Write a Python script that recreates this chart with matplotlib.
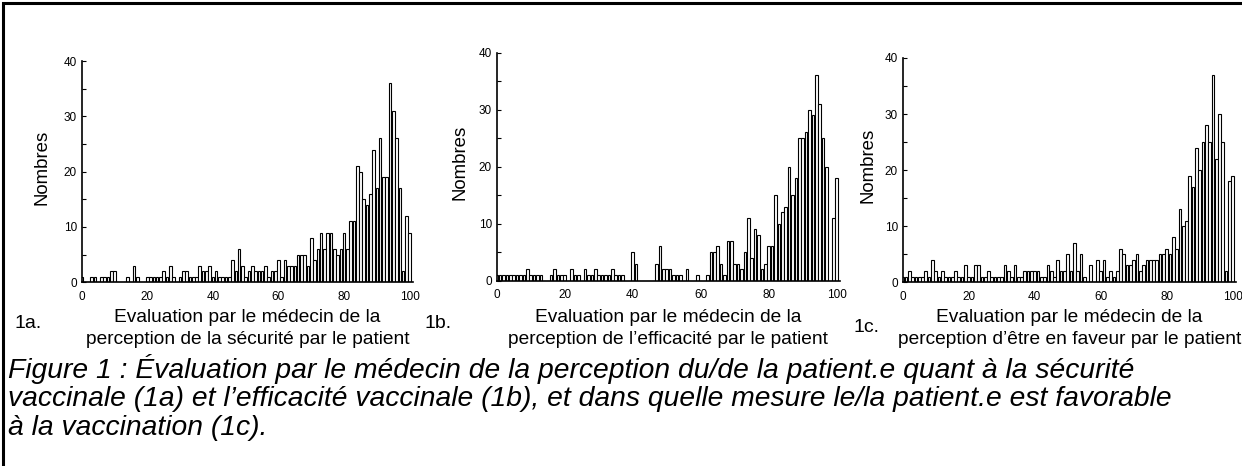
import matplotlib
matplotlib.use("Agg")
from matplotlib import pyplot as plt
from matplotlib.patches import Rectangle

plt.rcParams['font.family'] = ['Liberation Sans', 'DejaVu Sans']

scores = list(range(101))

# 1a : sécurité
counts_a = [1, 0, 0, 1, 1, 0, 1, 1, 1, 2,
            2, 0, 0, 0, 1, 0, 3, 1, 0, 0,
            1, 1, 1, 1, 1, 2, 1, 3, 1, 0,
            1, 2, 2, 1, 1, 1, 3, 2, 2, 3,
            1, 2, 1, 1, 1, 1, 4, 2, 6, 3,
            1, 2, 3, 2, 2, 2, 3, 1, 2, 2,
            4, 1, 4, 3, 3, 3, 5, 5, 5, 3,
            8, 4, 6, 9, 6, 9, 9, 6, 5, 6,
            9, 6, 11, 11, 21, 20, 15, 14, 16, 24,
            17, 26, 19, 19, 36, 31, 26, 17, 2, 12,
            9]

# 1b : efficacité
counts_b = [1, 1, 1, 1, 1, 1, 1, 1, 1, 2,
            1, 1, 1, 1, 0, 0, 1, 2, 1, 1,
            1, 0, 2, 1, 1, 0, 2, 1, 1, 2,
            1, 1, 1, 1, 2, 1, 1, 1, 0, 0,
            5, 3, 0, 0, 0, 0, 0, 3, 6, 2,
            2, 2, 1, 1, 1, 0, 2, 0, 0, 1,
            0, 0, 1, 5, 5, 6, 3, 1, 7, 7,
            3, 3, 2, 5, 11, 4, 9, 8, 2, 3,
            6, 6, 15, 10, 12, 13, 20, 15, 18, 25,
            25, 26, 30, 29, 36, 31, 25, 20, 0, 11,
            18]

# 1c : en faveur
counts_c = [1, 1, 2, 1, 1, 1, 1, 2, 1, 4,
            2, 1, 2, 1, 1, 1, 2, 1, 1, 3,
            1, 1, 3, 3, 1, 1, 2, 1, 1, 1,
            1, 3, 2, 1, 3, 1, 1, 2, 2, 2,
            2, 2, 1, 1, 3, 2, 1, 4, 2, 2,
            5, 2, 7, 2, 5, 1, 0, 3, 0, 4,
            2, 4, 1, 2, 1, 2, 6, 5, 3, 3,
            4, 5, 2, 3, 4, 4, 4, 4, 5, 5,
            6, 5, 8, 6, 13, 10, 11, 19, 17, 24,
            20, 25, 28, 25, 37, 22, 30, 25, 2, 18,
            19]

xlabels = [("Evaluation par le médecin de la", "perception de la sécurité par le patient"),
           ("Evaluation par le médecin de la", "perception de l\u2019efficacité par le patient"),
           ("Evaluation par le médecin de la", "perception d\u2019être en faveur par le patient")]
panel_tags = ["1a.", "1b.", "1c."]
caption_lines = ["Figure 1 : Évaluation par le médecin de la perception du/de la patient.e quant à la sécurité",
                 "vaccinale (1a) et l\u2019efficacité vaccinale (1b), et dans quelle mesure le/la patient.e est favorable",
                 "à la vaccination (1c)."]

W, H = 1242, 466
fig = plt.figure(figsize=(W / 100, H / 100), dpi=100)

# axes boxes in pixels: left, y of 0, y of 40, px per unit, right edge of ylabel
boxes = [(81.7, 282.3, 61.0, 3.28, 50),
         (496.7, 280.7, 52.7, 3.40, 469),
         (902.7, 282.3, 58.0, 3.30, 877)]
tag_pos = [(14, 324), (425, 324), (853, 328)]

for counts, xl, tag, box, tp in zip([counts_a, counts_b, counts_c], xlabels,
                                    panel_tags, boxes, tag_pos):
    left, y0, y40, ppu, ylx = box
    wpx = 101 * ppu
    ax = fig.add_axes([left / W, 1 - y0 / H, wpx / W, (y0 - y40) / H])
    ax.bar(scores, counts, width=0.8, color="white", edgecolor="black", linewidth=0.8)
    ax.set_xlim(0, 101)
    ax.set_ylim(0, 40)
    ax.spines["top"].set_visible(False)
    ax.spines["right"].set_visible(False)
    ax.spines["left"].set_linewidth(1.2)
    ax.spines["bottom"].set_linewidth(1.2)
    ax.set_xticks(range(0, 101, 20))
    ax.set_yticks(range(0, 41, 10))
    ax.set_yticks(range(0, 41, 5), minor=True)
    ax.tick_params(axis="both", which="both", direction="in", labelsize=8.5, length=3, width=0.8)
    ax.tick_params(axis="x", length=0, pad=6)
    ax.set_ylabel("Nombres", fontsize=13.4)
    ax.yaxis.set_label_coords((ylx - left) / wpx, 0.52)
    cx = left + 50.5 * ppu
    fig.text(cx / W, 1 - 318 / H, xl[0], ha="center", va="center", fontsize=13.8)
    fig.text(cx / W, 1 - 339 / H, xl[1], ha="center", va="center", fontsize=13.8)
    fig.text(tp[0] / W, 1 - tp[1] / H, tag, ha="left", va="center", fontsize=14)

for line, yc in zip(caption_lines, [369, 399, 428]):
    fig.text(8 / W, 1 - yc / H, line, ha="left", va="center", fontsize=20.3, style="italic")

fig.add_artist(Rectangle((3 / W, -0.2), 1.2, 1.2 - 3 / H, transform=fig.transFigure,
                         fill=False, edgecolor="black", linewidth=2.2))

fig.savefig("out.png", dpi=100)
